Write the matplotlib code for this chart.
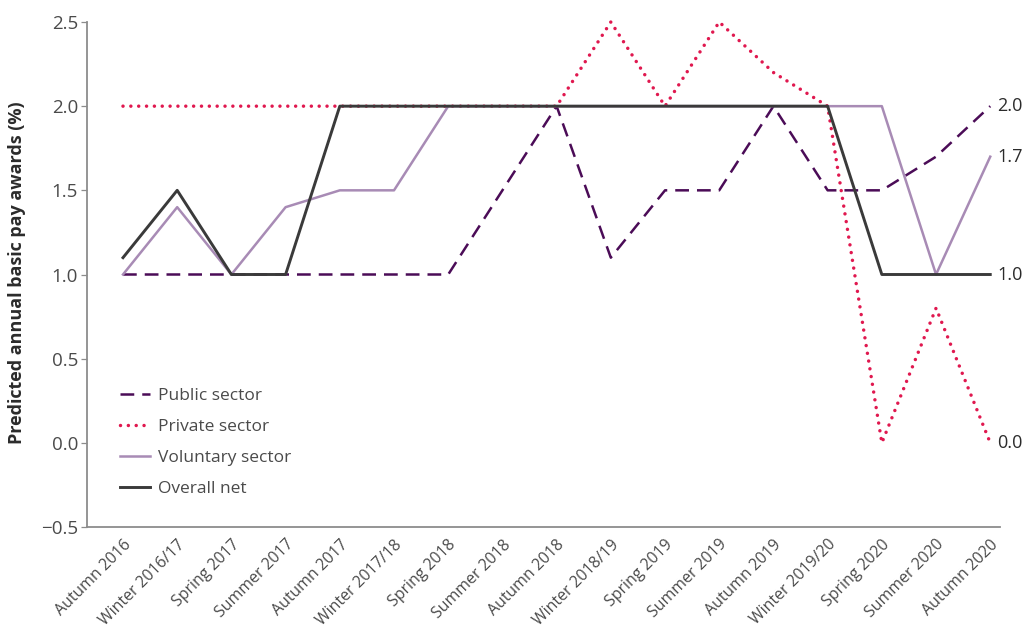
import matplotlib
matplotlib.use("Agg")
import matplotlib.pyplot as plt
import numpy as np

categories = ["Autumn 2016", "Winter 2016/17", "Spring 2017", "Summer 2017", "Autumn 2017",
              "Winter 2017/18", "Spring 2018", "Summer 2018", "Autumn 2018", "Winter 2018/19",
              "Spring 2019", "Summer 2019", "Autumn 2019", "Winter 2019/20", "Spring 2020",
              "Summer 2020", "Autumn 2020"]
public = [1.0, 1.0, 1.0, 1.0, 1.0, 1.0, 1.0, 1.5, 2.0, 1.1, 1.5, 1.5, 2.0, 1.5, 1.5, 1.7, 2.0]
private = [2.0, 2.0, 2.0, 2.0, 2.0, 2.0, 2.0, 2.0, 2.0, 2.5, 2.0, 2.5, 2.2, 2.0, 0.0, 0.8, 0.0]
voluntary = [1.0, 1.4, 1.0, 1.4, 1.5, 1.5, 2.0, 2.0, 2.0, 2.0, 2.0, 2.0, 2.0, 2.0, 2.0, 1.0, 1.7]
overall = [1.1, 1.5, 1.0, 1.0, 2.0, 2.0, 2.0, 2.0, 2.0, 2.0, 2.0, 2.0, 2.0, 2.0, 1.0, 1.0, 1.0]
yticks = [-0.5, 0.0, 0.5, 1.0, 1.5, 2.0, 2.5]

plt.rcParams['font.family'] = ['Open Sans', 'DejaVu Sans']
text_col = "#2b2b2b"
tick_col = "#4a4a4a"

W, H = 1032, 630
fig = plt.figure(figsize=(W / 100, H / 100), dpi=100)
ax = fig.add_axes([87 / W, 1 - 527 / H, (1000 - 87) / W, (527 - 22) / H])
x = np.arange(len(categories))

c_pub = "#4b0c57"
c_priv = "#e0184f"
c_vol = "#a88bb5"
c_all = "#3a3a3a"

ax.plot(x, public, color=c_pub, lw=1.8, ls=(0, (5.5, 3.2)), label="Public sector", clip_on=False)
ax.plot(x, private, color=c_priv, lw=2.5, ls=(0, (0.01, 2.25)), dash_capstyle='round',
        label="Private sector", clip_on=False)
ax.plot(x, voluntary, color=c_vol, lw=1.8, label="Voluntary sector", clip_on=False)
ax.plot(x, overall, color=c_all, lw=2.1, label="Overall net", clip_on=False)

# end labels
for series in (public, voluntary, overall, private):
    ax.annotate(f"{series[-1]:.1f}", xy=(x[-1], series[-1]), xytext=(5, 0), textcoords="offset points",
                va="center", ha="left", fontsize=13, color=text_col)

ax.set_xlim(-0.664, 16.18)
ax.set_ylim(-0.5, 2.5)
ax.set_yticks(yticks)
ax.set_yticklabels([f"{v:.1f}".replace("-", "\u2212") for v in yticks], fontsize=13.5, color=tick_col)
ax.set_xticks(x)
ax.set_xticklabels(categories, rotation=45, ha="right", rotation_mode="anchor", fontsize=11.4, color=tick_col)
ax.tick_params(axis="y", length=4.5, width=0.9, color="#8c8c8c", pad=2)
ax.tick_params(axis="x", length=0, pad=7)

for s in ("top", "right"):
    ax.spines[s].set_visible(False)
for s in ("left", "bottom"):
    ax.spines[s].set_color("#8c8c8c")
    ax.spines[s].set_linewidth(1.3)

fig.text(17 / W, 1 - 273 / H, "Predicted annual basic pay awards (%)", rotation=90, ha="center", va="center",
         fontsize=13, fontweight="bold", color=text_col)

leg = ax.legend(loc="upper left", bbox_to_anchor=(120 / W, 1 - 388 / H), bbox_transform=fig.transFigure,
                frameon=False, fontsize=12.5, handlelength=1.75, handletextpad=0.45, labelspacing=0.86,
                borderaxespad=0, borderpad=0)
for t in leg.get_texts():
    t.set_color(tick_col)

fig.savefig("out.png", dpi=100)
